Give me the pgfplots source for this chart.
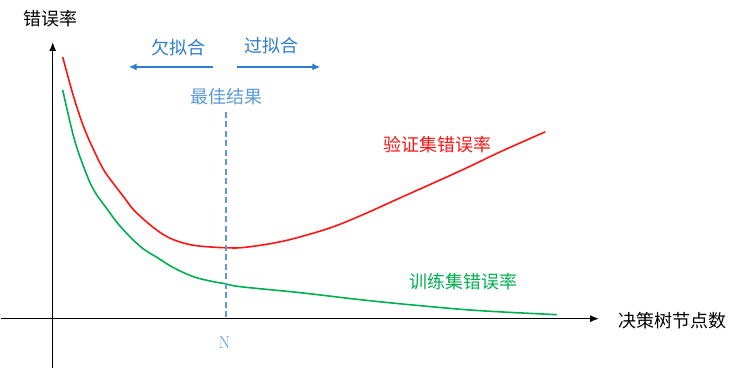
\documentclass[border=0pt]{standalone}
\usepackage{pgfplots}
\pgfplotsset{compat=1.18}
\usepackage{fontspec}
\newfontfamily\cjk{Noto Sans CJK SC}
\usetikzlibrary{arrows.meta}
\definecolor{cred}{RGB}{255,20,20}
\definecolor{cgreen}{RGB}{0,176,80}
\definecolor{cblue}{RGB}{46,125,200}
\definecolor{lblue}{RGB}{91,155,213}
\newcommand{\cf}{\cjk\fontsize{18}{20}\selectfont}
\begin{document}
\begin{tikzpicture}
\begin{axis}[
  scale only axis, width=746pt, height=368pt,
  xmin=0, xmax=746, ymin=0, ymax=368, y dir=reverse,
  hide axis, clip=false,
]
\addplot[draw=none] coordinates {(0,0) (746,368)};
% axes
\draw[line width=1.5pt, -{Latex[length=9pt,width=7pt]}] (axis cs:52,368) -- (axis cs:52,42);
\draw[line width=1.5pt, -{Latex[length=9pt,width=7pt]}] (axis cs:0,319) -- (axis cs:599,319);
% validation error
\addplot[cred, line width=1.6pt, smooth, tension=0.6] coordinates {
(62,57) (73,97) (83,127) (93,150) (103,170) (113,184) (123,197) (133,210)
(147,223) (160,233) (173,240) (190,245) (207,247) (225,248) (240,248)
(260,245.5) (280,242) (300,237) (330,228) (360,216) (400,198) (460,171) (500,152) (545,132)};
% training error
\addplot[cgreen, line width=1.6pt, smooth, tension=0.6] coordinates {
(62,90) (73,137) (83,167) (93,190) (107,210) (120,227) (140,247) (157,258)
(173,268) (193,277) (213,282) (225,284) (240,287) (300,293) (360,300) (420,306) (480,311) (557,315)};
% best result line
\addplot[lblue, line width=2pt, dash pattern=on 6pt off 3.5pt] coordinates {(225,112) (225,319)};
% arrows
\draw[cblue, line width=1.6pt, -{Latex[length=8pt,width=7pt]}] (axis cs:212,67) -- (axis cs:128,67);
\draw[cblue, line width=1.6pt, -{Latex[length=8pt,width=7pt]}] (axis cs:236,67) -- (axis cs:320,67);
% texts
\node[black, font=\cf] at (axis cs:50,19) {错误率};
\node[black, font=\cf] at (axis cs:672,321) {决策树节点数};
\node[cblue, font=\cf] at (axis cs:178,48) {欠拟合};
\node[cblue, font=\cf] at (axis cs:271,46) {过拟合};
\node[lblue, font=\cf] at (axis cs:226,97) {最佳结果};
\node[cred, font=\cf] at (axis cs:437,145) {验证集错误率};
\node[cgreen, font=\cf] at (axis cs:463,282) {训练集错误率};
\node[lblue, font=\rmfamily\fontsize{17}{18}\selectfont] at (axis cs:224,343) {N};
\end{axis}
\end{tikzpicture}
\end{document}
